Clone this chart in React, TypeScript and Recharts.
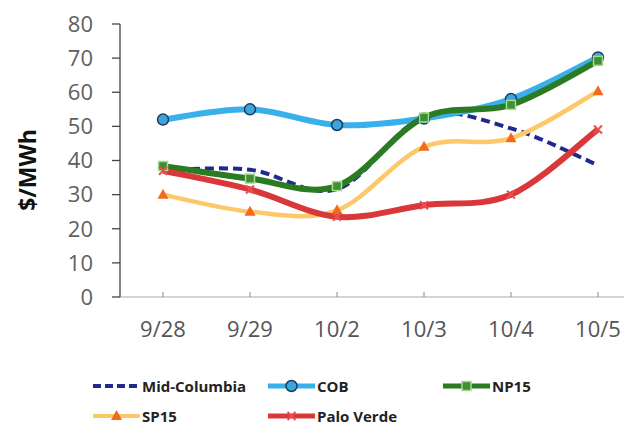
import { LineChart, Line, XAxis, YAxis } from "recharts";

const days = ["9/28", "9/29", "10/2", "10/3", "10/4", "10/5"];
const midColumbia = [37.2, 37.3, 31.6, 52.8, 49.4, 38.6];
const cob = [52.0, 55.0, 50.4, 52.3, 58.0, 70.2];
const np15 = [38.4, 34.7, 32.5, 52.6, 56.3, 69.2];
const sp15 = [30.0, 25.0, 25.4, 44.0, 46.5, 60.3];
const paloVerde = [37.0, 31.5, 23.5, 26.9, 30.0, 49.1];
const yTicks = [0, 10, 20, 30, 40, 50, 60, 70, 80];

const rows = days.map((d, i) => ({
  day: d,
  mid: midColumbia[i],
  cob: cob[i],
  np15: np15[i],
  sp15: sp15[i],
  pv: paloVerde[i],
}));

const FONT = "'Open Sans', 'Noto Sans', sans-serif";

// Excel-like smoothing (Catmull-Rom through every point)
function smooth(context: any) {
  let pts: number[][] = [];
  return {
    areaStart() {},
    areaEnd() {},
    lineStart() {
      pts = [];
    },
    point(x: number, y: number) {
      pts.push([+x, +y]);
    },
    lineEnd() {
      if (!pts.length) return;
      context.moveTo(pts[0][0], pts[0][1]);
      for (let i = 0; i < pts.length - 1; i++) {
        const p0 = pts[i - 1] || pts[i];
        const p1 = pts[i];
        const p2 = pts[i + 1];
        const p3 = pts[i + 2] || p2;
        context.bezierCurveTo(
          p1[0] + (p2[0] - p0[0]) / 6,
          p1[1] + (p2[1] - p0[1]) / 6,
          p2[0] - (p3[0] - p1[0]) / 6,
          p2[1] - (p3[1] - p1[1]) / 6,
          p2[0],
          p2[1]
        );
      }
    },
  };
}

const CircleDot = ({ cx, cy }: any) => (
  <circle cx={cx} cy={cy} r={5.5} fill="#3aa6dc" stroke="#1b3d5c" strokeWidth={1.5} />
);
const SquareDot = ({ cx, cy }: any) => (
  <rect x={cx - 4.5} y={cy - 4.5} width={9} height={9} fill="#3f8f33" stroke="#a6dc8f" strokeWidth={1.5} />
);
const TriDot = ({ cx, cy }: any) => (
  <path d={`M${cx},${cy - 6}L${cx + 5.5},${cy + 4}L${cx - 5.5},${cy + 4}Z`} fill="#f26b1d" />
);
const CrossDot = ({ cx, cy }: any) => (
  <path
    d={`M${cx - 4},${cy - 4}L${cx + 4},${cy + 4}M${cx + 4},${cy - 4}L${cx - 4},${cy + 4}`}
    stroke="#e85050"
    strokeWidth={2}
  />
);

const XTick = ({ x, y, payload }: any) => (
  <g>
    <line x1={x} x2={x} y1={y} y2={y - 5} stroke="#888" />
    <text x={x} y={y + 40} textAnchor="middle" fill="#555" fontSize={22} fontFamily={FONT}>
      {payload.value}
    </text>
  </g>
);

const legendItems = [
  { name: "Mid-Columbia", color: "#1f2a8c", dash: "8 4", width: 4, mark: null as any, left: 85, top: 378 },
  { name: "COB", color: "#3ab0ea", dash: undefined, width: 5, mark: CircleDot, left: 260, top: 378 },
  { name: "NP15", color: "#2b7b23", dash: undefined, width: 5, mark: SquareDot, left: 435, top: 378 },
  { name: "SP15", color: "#fcc86a", dash: undefined, width: 4, mark: TriDot, left: 85, top: 408 },
  { name: "Palo Verde", color: "#d9373a", dash: undefined, width: 5, mark: CrossDot, left: 260, top: 408 },
];

export default function App() {
  return (
    <div style={{ position: "relative", width: 624, height: 420 }}>
      <LineChart width={624} height={420} data={rows} margin={{ top: 16, right: 2, bottom: 81, left: 0 }}>
        <XAxis
          dataKey="day"
          height={50}
          padding={{ left: 43, right: 32 }}
          tickSize={0}
          tickMargin={0}
          tickLine={false}
          axisLine={{ stroke: "#aaa", strokeWidth: 1.2 }}
          tick={<XTick />}
          interval={0}
        />
        <YAxis
          width={112}
          domain={[0, 80]}
          ticks={yTicks}
          interval={0}
          tickSize={8}
          tickMargin={19}
          axisLine={{ stroke: "#444", strokeWidth: 1.3 }}
          tickLine={{ stroke: "#444", strokeWidth: 1.3 }}
          tick={{ fill: "#606060", fontSize: 22, fontFamily: FONT }}
          label={{
            content: () => (
              <text
                x={19}
                y={162}
                transform="rotate(-90 19 162)"
                textAnchor="middle"
                dominantBaseline="central"
                fontSize={23}
                fontWeight={700}
                fontFamily={FONT}
                fill="#111"
              >
                $/MWh
              </text>
            ),
          }}
        />
        <Line dataKey="mid" type={smooth as any} stroke="#1f2a8c" strokeWidth={4} strokeDasharray="9 5" dot={false} isAnimationActive={false} />
        <Line dataKey="cob" type={smooth as any} stroke="#3ab0ea" strokeWidth={6} dot={<CircleDot />} isAnimationActive={false} />
        <Line dataKey="np15" type={smooth as any} stroke="#2b7b23" strokeWidth={6} dot={<SquareDot />} isAnimationActive={false} />
        <Line dataKey="sp15" type={smooth as any} stroke="#fcc86a" strokeWidth={4.5} dot={<TriDot />} isAnimationActive={false} />
        <Line dataKey="pv" type={smooth as any} stroke="#d9373a" strokeWidth={6} dot={<CrossDot />} isAnimationActive={false} />
      </LineChart>
      {legendItems.map((it) => {
        const Mark = it.mark;
        return (
          <div
            key={it.name}
            style={{
              position: "absolute",
              left: it.left,
              top: it.top - 12,
              height: 24,
              display: "flex",
              alignItems: "center",
              fontFamily: FONT,
              fontWeight: 700,
              fontSize: 15,
              color: "#222",
              whiteSpace: "nowrap",
            }}
          >
            <svg width={47} height={16} style={{ marginRight: 2 }}>
              <line x1={0} x2={47} y1={8} y2={8} stroke={it.color} strokeWidth={it.width} strokeDasharray={it.dash} />
              {Mark ? <Mark cx={23.5} cy={8} /> : null}
            </svg>
            {it.name}
          </div>
        );
      })}
    </div>
  );
}
